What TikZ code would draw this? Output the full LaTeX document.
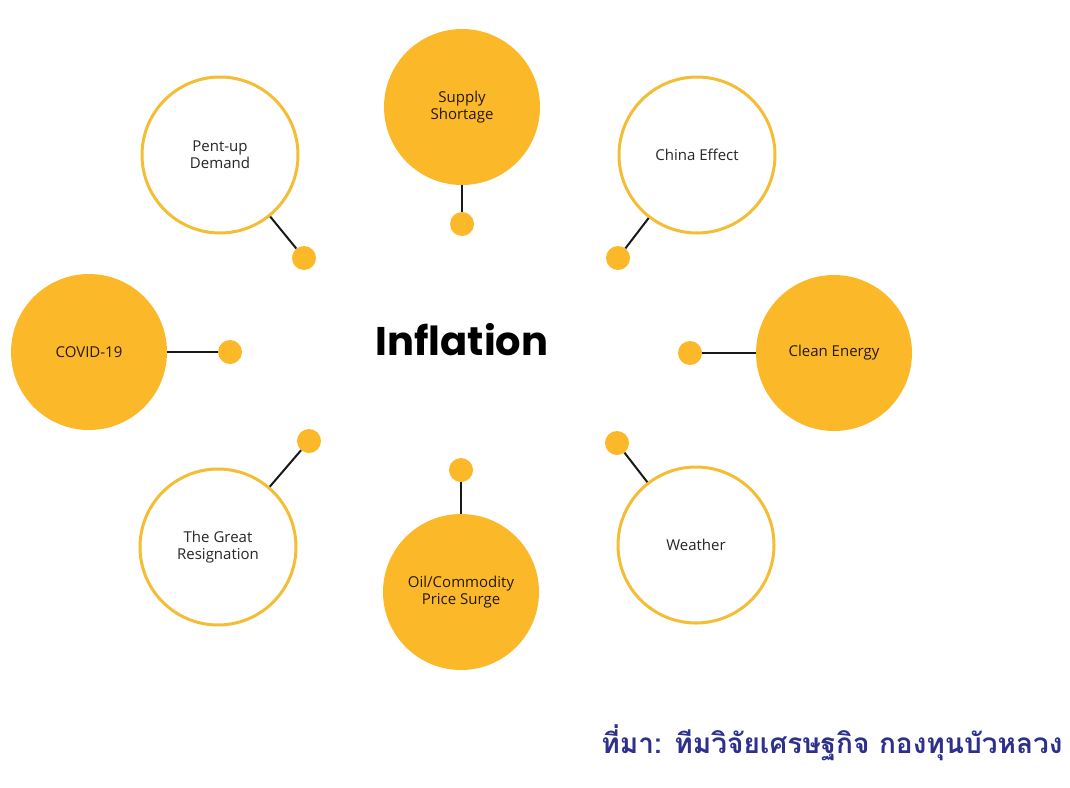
\documentclass[tikz,border=0pt]{standalone}
\usepackage{fontspec}
\setmainfont{Open Sans}
\newfontfamily\titlefont{Poppins}
\newfontfamily\thaifont[Script=Thai]{Loma}
\usetikzlibrary{positioning}
\definecolor{sunyellow}{RGB}{251,184,40}
\definecolor{ringyellow}{RGB}{244,189,54}
\definecolor{sourceblue}{RGB}{46,49,140}

\begin{document}
\begin{tikzpicture}[
  x=1pt, y=-1pt,
  bignode/.style={circle,minimum size=156pt,inner sep=0pt,align=center,font=\fontsize{15}{17}\selectfont},
  fullnode/.style={bignode,fill=sunyellow,text=black!80!brown},
  ringnode/.style={bignode,draw=ringyellow,line width=3pt,fill=white,text=black!85},
  dotnode/.style={circle,fill=sunyellow,minimum size=24pt,inner sep=0pt},
  link/.style={line width=2pt,black!90}
]
\useasboundingbox (0,0) rectangle (1070,787);
% outer ring of causes
\node[fullnode] (supply) at (462,107) {Supply\\Shortage};
\node[ringnode] (pent) at (220,155) {Pent-up\\Demand};
\node[ringnode] (china) at (697,155) {China Effect};
\node[fullnode] (covid) at (89,352) {COVID-19};
\node[fullnode] (clean) at (834,353) {Clean Energy};
\node[ringnode] (resign) at (218,547) {The Great\\Resignation};
\node[fullnode] (oil) at (461,592) {Oil/Commodity\\Price Surge};
\node[ringnode] (weather) at (696,545) {Weather};
% small dots
\node[dotnode] (supplydot) at (462,224) {};
\node[dotnode] (pentdot) at (304,258) {};
\node[dotnode] (chinadot) at (618,258) {};
\node[dotnode] (coviddot) at (230,352) {};
\node[dotnode] (cleandot) at (690,353) {};
\node[dotnode] (resigndot) at (309,441) {};
\node[dotnode] (weatherdot) at (617,443) {};
\node[dotnode] (oildot) at (461,470) {};
\draw[link] (supply) -- (supplydot);
\draw[link] (pent) -- (pentdot);
\draw[link] (china) -- (chinadot);
\draw[link] (covid) -- (coviddot);
\draw[link] (clean) -- (cleandot);
\draw[link] (resign) -- (resigndot);
\draw[link] (weather) -- (weatherdot);
\draw[link] (oil) -- (oildot);
% centre and source
\node[font=\titlefont\bfseries\fontsize{40}{44}\selectfont] (inflation) at (462,340) {Inflation};
\node[anchor=east,text=sourceblue,font=\thaifont\bfseries\fontsize{28}{32}\selectfont] (source) at (1066,743) {ที่มา: ทีมวิจัยเศรษฐกิจ กองทุนบัวหลวง};
\end{tikzpicture}
\end{document}
